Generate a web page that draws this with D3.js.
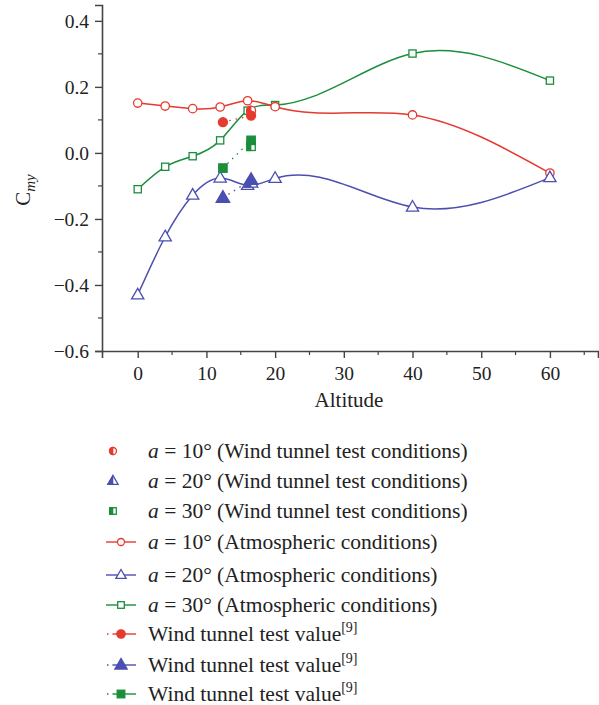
<!DOCTYPE html>
<html>
<head>
<meta charset="utf-8">
<script src="https://cdn.jsdelivr.net/npm/d3@7"></script>
<style>
  body { margin: 0; background: #fff; }
  text { font-family: "Liberation Serif", "DejaVu Serif", serif; fill: #222; }
</style>
</head>
<body>
<div id="chart"></div>
<script>
// altitude points for the atmospheric runs
var altitudes = [0, 4, 8, 12, 16, 20, 40, 60];
var atm10 = [0.151, 0.142, 0.134, 0.139, 0.158, 0.140, 0.115, -0.061];
var atm20 = [-0.430, -0.254, -0.128, -0.076, -0.098, -0.077, -0.164, -0.075];
var atm30 = [-0.110, -0.042, -0.010, 0.038, 0.128, 0.145, 0.301, 0.219];

// wind tunnel test conditions (single points)
var wtcAlt = 16.5;
var wtc10 = 0.128;
var wtc20 = -0.090;
var wtc30 = 0.020;

// wind tunnel test values [9]
var wtvAlt = [12.4, 16.5];
var wtv10 = [0.093, 0.113];
var wtv20 = [-0.136, -0.082];
var wtv30 = [-0.046, 0.038];

var xTicks = [0, 10, 20, 30, 40, 50, 60];
var yTicks = [0.4, 0.2, 0.0, -0.2, -0.4, -0.6];

var red = "#e53a2f", blue = "#4b4fb0", green = "#1b8e3c";

var svgWidth = 599, svgHeight = 705;
var svg = d3.select("#chart").append("svg")
  .attr("width", svgWidth)
  .attr("height", svgHeight);

var x = d3.scaleLinear().domain([-5.2, 67]).range([102, 598]);
var y = d3.scaleLinear().domain([-0.6, 0.448]).range([351, 5]);

// axes
var xAxis = d3.axisBottom(x).tickValues(xTicks).tickSize(7).tickPadding(8)
  .tickFormat(d3.format("d"));
var gx = svg.append("g").attr("transform", "translate(0,351)").call(xAxis);

var yAxis = d3.axisLeft(y).tickValues(yTicks).tickSize(7).tickPadding(6)
  .tickFormat(function(d) { return d3.format(".1f")(d).replace("-", "\u2212"); });
var gy = svg.append("g").attr("transform", "translate(102,0)").call(yAxis);

[gx, gy].forEach(function(g) {
  g.attr("font-family", "Liberation Serif").attr("font-size", 19.5);
  g.selectAll(".tick text").attr("fill", "#222");
  g.select(".domain").attr("stroke", "#444").attr("stroke-width", 1.6);
  g.selectAll(".tick line").attr("stroke", "#444").attr("stroke-width", 1.4);
});

// minor ticks
svg.append("g").selectAll("line")
  .data(d3.range(5, 66, 10))
  .enter().append("line")
  .attr("x1", d => x(d)).attr("x2", d => x(d))
  .attr("y1", 351).attr("y2", 355)
  .attr("stroke", "#444").attr("stroke-width", 1.2);
svg.append("g").selectAll("line")
  .data([0.3, 0.1, -0.1, -0.3, -0.5])
  .enter().append("line")
  .attr("x1", 102).attr("x2", 98)
  .attr("y1", d => y(d)).attr("y2", d => y(d))
  .attr("stroke", "#444").attr("stroke-width", 1.2);

// axis labels
svg.append("text")
  .attr("x", 349).attr("y", 407)
  .attr("text-anchor", "middle")
  .style("font-size", "21px")
  .text("Altitude");

var yl = svg.append("text")
  .attr("transform", "translate(30,190) rotate(-90)")
  .attr("text-anchor", "middle")
  .style("font-size", "21px");
yl.append("tspan").text("C");
yl.append("tspan").attr("dy", 5).style("font-size", "15px").style("font-style", "italic").text("my");

// natural cubic spline in x, drawn as bezier pieces
function NaturalX(context) { this._context = context; }
NaturalX.prototype = {
  areaStart: function() {}, areaEnd: function() {},
  lineStart: function() { this._x = []; this._y = []; },
  point: function(px, py) { this._x.push(+px); this._y.push(+py); },
  lineEnd: function() {
    var xs = this._x, ys = this._y, n = xs.length, c = this._context;
    if (!n) return;
    c.moveTo(xs[0], ys[0]);
    if (n < 3) { if (n === 2) c.lineTo(xs[1], ys[1]); return; }
    var h = [], i;
    for (i = 0; i < n - 1; i++) h.push(xs[i + 1] - xs[i]);
    var a = [], b = [], cc = [], r = [];
    for (i = 1; i < n - 1; i++) {
      a.push(h[i - 1]); b.push(2 * (h[i - 1] + h[i])); cc.push(h[i]);
      r.push(6 * ((ys[i + 1] - ys[i]) / h[i] - (ys[i] - ys[i - 1]) / h[i - 1]));
    }
    var m = r.length;
    for (i = 1; i < m; i++) {
      var w = a[i] / b[i - 1];
      b[i] -= w * cc[i - 1]; r[i] -= w * r[i - 1];
    }
    var M = new Array(n).fill(0);
    for (i = m - 1; i >= 0; i--) {
      M[i + 1] = (r[i] - (i < m - 1 ? cc[i] * M[i + 2] : 0)) / b[i];
    }
    var s = [];
    for (i = 0; i < n - 1; i++) s.push((ys[i + 1] - ys[i]) / h[i] - h[i] * (2 * M[i] + M[i + 1]) / 6);
    s.push((ys[n - 1] - ys[n - 2]) / h[n - 2] + h[n - 2] * (M[n - 2] + 2 * M[n - 1]) / 6);
    for (i = 0; i < n - 1; i++) {
      var d = h[i] / 3;
      c.bezierCurveTo(xs[i] + d, ys[i] + s[i] * d, xs[i + 1] - d, ys[i + 1] - s[i + 1] * d, xs[i + 1], ys[i + 1]);
    }
  }
};
var curveNaturalX = function(context) { return new NaturalX(context); };

// marker helpers
var triSym = d3.symbol().type(d3.symbolTriangle);
function drawMarker(g, kind, cx, cy, color, fill, size) {
  if (kind === "circle") {
    g.append("circle").attr("cx", cx).attr("cy", cy).attr("r", size)
      .attr("fill", fill).attr("stroke", color).attr("stroke-width", 1.3);
  } else if (kind === "square") {
    g.append("rect").attr("x", cx - size).attr("y", cy - size)
      .attr("width", size * 2).attr("height", size * 2)
      .attr("fill", fill).attr("stroke", color).attr("stroke-width", 1.3);
  } else {
    g.append("path").attr("d", triSym.size(size * size * 2.6)())
      .attr("transform", "translate(" + cx + "," + (cy + size * 0.1) + ")")
      .attr("fill", fill).attr("stroke", color).attr("stroke-width", 1.3);
  }
}
var clipCount = 0;
function drawHalf(g, kind, cx, cy, color, size) {
  drawMarker(g, kind, cx, cy, color, "#fff", size);
  var id = "half" + (clipCount++);
  svg.append("clipPath").attr("id", id).append("rect")
    .attr("x", cx - size * 2).attr("y", cy - size * 2)
    .attr("width", size * 2 + 0.3).attr("height", size * 4);
  var hg = g.append("g").attr("clip-path", "url(#" + id + ")");
  drawMarker(hg, kind, cx, cy, color, color, size);
}

var line = d3.line().x(d => x(d[0])).y(d => y(d[1])).curve(curveNaturalX);

var atmSeries = [
  { vals: atm30, color: green, kind: "square", size: 3.6 },
  { vals: atm10, color: red, kind: "circle", size: 4.2 },
  { vals: atm20, color: blue, kind: "tri", size: 5 }
];

atmSeries.forEach(function(s) {
  var pts = altitudes.map((a, i) => [a, s.vals[i]]);
  svg.append("path").datum(pts).attr("d", line)
    .attr("fill", "none").attr("stroke", s.color).attr("stroke-width", 1.5);
  var g = svg.append("g");
  pts.forEach(p => drawMarker(g, s.kind, x(p[0]), y(p[1]), s.color, "#fff", s.size));
});

// wind tunnel test values
var wtvSeries = [
  { vals: wtv10, color: red, kind: "circle", size: 4.5 },
  { vals: wtv20, color: blue, kind: "tri", size: 5.5 },
  { vals: wtv30, color: green, kind: "square", size: 4.2 }
];
var wtcSeries = [
  { val: wtc10, color: red, kind: "circle", size: 4.5 },
  { val: wtc20, color: blue, kind: "tri", size: 5.5 },
  { val: wtc30, color: green, kind: "square", size: 4.2 }
];

wtcSeries.forEach(function(s) {
  drawHalf(svg.append("g"), s.kind, x(wtcAlt), y(s.val), s.color, s.size);
});

wtvSeries.forEach(function(s) {
  var pts = wtvAlt.map((a, i) => [a, s.vals[i]]);
  svg.append("path").datum(pts)
    .attr("d", d3.line().x(d => x(d[0])).y(d => y(d[1])))
    .attr("fill", "none").attr("stroke", s.color).attr("stroke-width", 1.3)
    .attr("stroke-dasharray", "1.5,5");
  var g = svg.append("g");
  pts.forEach(p => drawMarker(g, s.kind, x(p[0]), y(p[1]), s.color, s.color, s.size));
});

// legend
var legendRows = [
  { type: "wtc", color: red, kind: "circle", size: 3.5, label: "10° (Wind tunnel test conditions)" },
  { type: "wtc", color: blue, kind: "tri", size: 4.2, label: "20° (Wind tunnel test conditions)" },
  { type: "wtc", color: green, kind: "square", size: 3.3, label: "30° (Wind tunnel test conditions)" },
  { type: "atm", color: red, kind: "circle", size: 3.5, label: "10° (Atmospheric conditions)" },
  { type: "atm", color: blue, kind: "tri", size: 4.2, label: "20° (Atmospheric conditions)" },
  { type: "atm", color: green, kind: "square", size: 3.3, label: "30° (Atmospheric conditions)" },
  { type: "wtv", color: red, kind: "circle", size: 4.2, label: "Wind tunnel test value" },
  { type: "wtv", color: blue, kind: "tri", size: 5, label: "Wind tunnel test value" },
  { type: "wtv", color: green, kind: "square", size: 3.8, label: "Wind tunnel test value" }
];
var legendY = [451, 481, 511, 542, 575, 605, 634, 665, 694];

legendRows.forEach(function(r, i) {
  var ly = legendY[i];
  var g = svg.append("g");
  if (r.type === "wtc") {
    drawHalf(g, r.kind, 113, ly, r.color, r.size);
  } else if (r.type === "atm") {
    g.append("line").attr("x1", 106).attr("x2", 136).attr("y1", ly).attr("y2", ly)
      .attr("stroke", r.color).attr("stroke-width", 1.4);
    drawMarker(g, r.kind, 121, ly, r.color, "#fff", r.size);
  } else {
    g.append("line").attr("x1", 107).attr("x2", 114).attr("y1", ly).attr("y2", ly)
      .attr("stroke", r.color).attr("stroke-width", 1.4).attr("stroke-dasharray", "1.5,4");
    g.append("line").attr("x1", 114).attr("x2", 136).attr("y1", ly).attr("y2", ly)
      .attr("stroke", r.color).attr("stroke-width", 1.4);
    drawMarker(g, r.kind, 121, ly, r.color, r.color, r.size);
  }
  var t = g.append("text").attr("x", 148).attr("y", ly + 7).style("font-size", "21.5px");
  if (r.type === "wtv") {
    t.append("tspan").text(r.label);
    t.append("tspan").attr("dy", -9).style("font-size", "14px").text("[9]");
  } else {
    t.append("tspan").style("font-style", "italic").text("a");
    t.append("tspan").text(" = " + r.label);
  }
});
</script>
</body>
</html>
